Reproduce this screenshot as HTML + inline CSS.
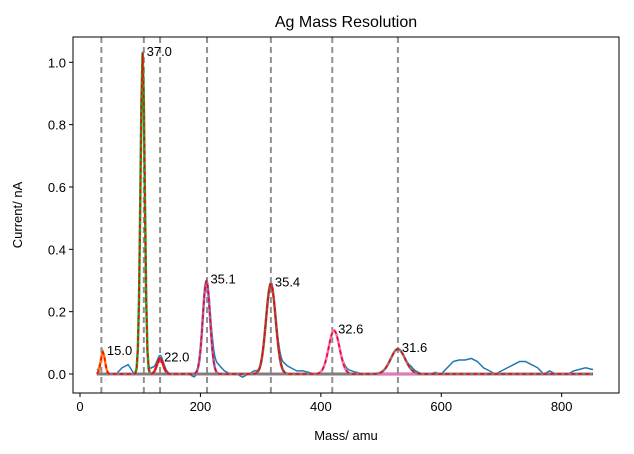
<!DOCTYPE html>
<html><head><meta charset="utf-8"><style>
body{margin:0;background:#fff;}
svg{display:block;font-family:"Liberation Sans","DejaVu Sans",sans-serif;}
</style></head><body>
<svg id="chart" width="634" height="454" viewBox="0 0 634 454"></svg>
<script>
const fitNames=['peak-1','peak-2','peak-3','peak-4','peak-5','peak-6','peak-7'];
const peakCenters=[38,104,133,210,317,422,528];
const peakHeights=[0.07,1.03,0.05,0.30,0.29,0.14,0.08];
const peakSigmas=[3.5,3.5,5,6,8,9,12];
const peakLabels=['15.0','37.0','22.0','35.1','35.4','32.6','31.6'];
const markerMasses=[35.5,106,133,211,317,419,528];
const baselineMasses=[30,40,50,60,70,80,90,100,110,120,130,140,150,160,170,180,190,200,210,220,230,240,250,260,270,280,290,300,310,320,330,340,350,360,370,380,390,400,410,420,430,440,450,460,470,480,490,500,510,520,530,540,550,560,570,580,590,600,610,620,630,640,650,660,670,680,690,700,710,720,730,740,750,760,770,780,790,800,810,820,830,840,850];
const baselineValues=[0.01,0,0,0,0.02,0.03,0,0,0.01,0.02,0.01,0.01,0,0,0,0,-0.01,0,0,0.04,0.03,0.01,0,0,-0.01,0,0.01,0,0,0,0.02,0.03,0.02,0.01,0.01,0.005,0,0,0,0,0,0.01,0.01,0.005,0,0,0,0,0,0,0,0,0.01,0.005,0,0,0.005,0,0.02,0.04,0.045,0.045,0.05,0.04,0.02,0.01,0,0.01,0.02,0.03,0.04,0.04,0.03,0.02,0,0.01,0,0,0,0.01,0.015,0.02,0.015];
const xTicks=[0,200,400,600,800];
const yTicks=[0,0.2,0.4,0.6,0.8,1.0];
const fitColors=['#ff7f0e','#2ca02c','#d62728','#9467bd','#8c564b','#e377c2','#7f7f7f'];

const L=73,R=619,T=37,B=393;
const X=v=>80+v*0.6021;
const Y=v=>374-v*311.7;
const svg=document.getElementById('chart');
const NS='http://www.w3.org/2000/svg';
function mk(tag,attrs,parent){const e=document.createElementNS(NS,tag);for(const k in attrs)e.setAttribute(k,attrs[k]);(parent||svg).appendChild(e);return e;}
const g=(m,i)=>peakHeights[i]*Math.exp(-0.5*Math.pow((m-peakCenters[i])/peakSigmas[i],2));
function base(m){for(let i=0;i<baselineMasses.length-1;i++){if(m<=baselineMasses[i+1]){const t=(m-baselineMasses[i])/(baselineMasses[i+1]-baselineMasses[i]);return baselineValues[i]+t*(baselineValues[i+1]-baselineValues[i]);}}return baselineValues[baselineValues.length-1];}
const masses=[];for(let m=28;m<=852;m+=2)masses.push(m);

let t=mk('text',{x:346,y:27,'text-anchor':'middle','font-size':'16',fill:'#000'});t.textContent='Ag Mass Resolution';

const clip=mk('clipPath',{id:'cp'});mk('rect',{x:L,y:T,width:R-L,height:B-T},clip);
const plot=mk('g',{'clip-path':'url(#cp)'});


markerMasses.forEach(m=>{const l=mk('line',{x1:X(m),x2:X(m),y1:T,y2:B,stroke:'#909090','stroke-width':2,'stroke-dasharray':'6,4'},plot);
});

let p=mk('polyline',{points:masses.map(m=>{let v=base(m);for(let i=0;i<7;i++)v+=g(m,i);return X(m)+','+Y(v);}).join(' '),fill:'none',stroke:'#1f77b4','stroke-width':1.5},plot);

for(let i=0;i<7;i++){const q=mk('polyline',{points:masses.map(m=>X(m)+','+Y(g(m,i))).join(' '),fill:'none',stroke:fitColors[i],'stroke-width':2.5},plot);
}
p=mk('polyline',{points:masses.map(m=>{let v=0;for(let i=0;i<7;i++)v+=g(m,i);return X(m)+','+Y(v);}).join(' '),fill:'none',stroke:'#ff0000','stroke-width':1.5,'stroke-dasharray':'4,3'},plot);


peakLabels.forEach((s,i)=>{const e=mk('text',{x:X(peakCenters[i])+4,y:Y(peakHeights[i])+3,'font-size':'13',fill:'#000'});e.textContent=s;
});

const fr=mk('rect',{x:L,y:T,width:R-L,height:B-T,fill:'none',stroke:'#000','stroke-width':1});

xTicks.forEach(v=>{mk('line',{x1:X(v),x2:X(v),y1:B,y2:B+4,stroke:'#000'});const e=mk('text',{x:X(v),y:B+18,'text-anchor':'middle','font-size':'13',fill:'#000'});e.textContent=v;
});
yTicks.forEach(v=>{mk('line',{x1:L-4,x2:L,y1:Y(v),y2:Y(v),stroke:'#000'});const e=mk('text',{x:L-7,y:Y(v)+5,'text-anchor':'end','font-size':'13',fill:'#000'});e.textContent=v.toFixed(1);
});
t=mk('text',{x:346,y:440,'text-anchor':'middle','font-size':'13',fill:'#000'});t.textContent='Mass/ amu';

t=mk('text',{x:0,y:0,'text-anchor':'middle','font-size':'13',fill:'#000',transform:'translate(22,215) rotate(-90)'});t.textContent='Current/ nA';

</script>
</body></html>
